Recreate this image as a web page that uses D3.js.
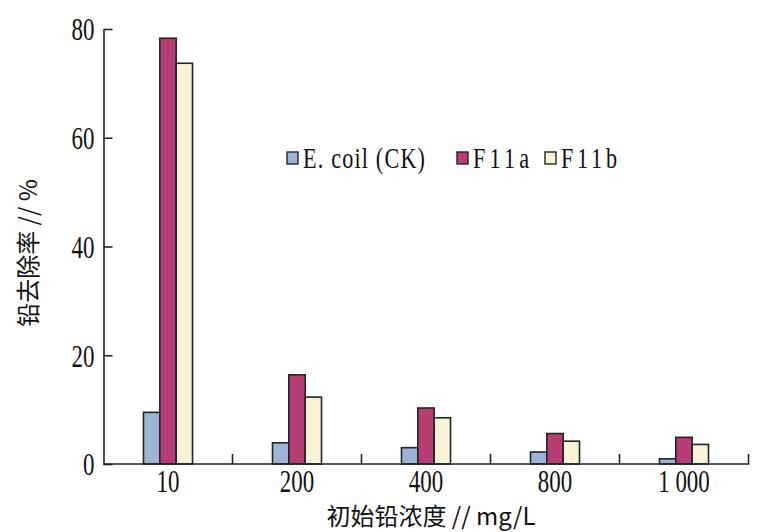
<html>
<head>
	<meta charset="utf-8">
	<script src="https://d3js.org/d3.v7.min.js"></script>
</head>
<body>
	<style> *{
		margin: 0px;
		padding: 0px;
	}
	body { background: #fff; }
	</style>

	<svg id="SVGcanvas" xmlns="http://www.w3.org/2000/svg" width="766" height="532"></svg>

	<script>
	// data
	var categories = ["10", "200", "400", "800", "1 000"];
	var seriesNames = ["E. coil (CK)", "F11a", "F11b"];
	var ecoilValues = [9.5, 3.9, 3.0, 2.2, 0.95];
	var f11aValues = [78.3, 16.4, 10.3, 5.6, 4.9];
	var f11bValues = [73.7, 12.3, 8.5, 4.2, 3.6];
	var yTicks = [0, 20, 40, 60, 80];
	var seriesColors = ["#9db4d6", "#b93d75", "#f8f3d6"];

	var svg = d3.select( "#SVGcanvas" );
	var plotLeft = 103.5, plotRight = 748.5, plotTop = 29, plotBottom = 464;
	var strokeColor = "#1e2626";
	var numFont = "'Liberation Serif', 'Times New Roman', serif";
	var cjkFont = "'Noto Sans CJK SC', sans-serif";
	var squeeze = 0.74;

	var seriesValues = [ecoilValues, f11aValues, f11bValues];

	var x = d3.scaleBand()
		.domain( categories )
		.range( [plotLeft, plotRight] )
		.paddingInner( 0.62 )
		.paddingOuter( 0.31 );

	var xInner = d3.scaleBand()
		.domain( d3.range( seriesNames.length ) )
		.range( [0, x.bandwidth()] );

	var y = d3.scaleLinear()
		.domain( [0, 80] )
		.range( [plotBottom, plotTop] );

	// bars
	categories.forEach( function ( cat, i ) {
		seriesValues.forEach( function ( vals, s ) {
			svg.append( "rect" )
				.attr( "x", x( cat ) + xInner( s ) )
				.attr( "y", y( vals[i] ) )
				.attr( "width", xInner.bandwidth() )
				.attr( "height", y( 0 ) - y( vals[i] ) )
				.attr( "fill", seriesColors[s] )
				.attr( "stroke", strokeColor )
				.attr( "stroke-width", 1.6 );
		});
	});

	// y axis, ticks pointing into the plot
	var yAxis = svg.append( "g" )
		.attr( "transform", "translate(" + plotLeft + ",0)" )
		.call( d3.axisRight( y ).tickValues( yTicks ).tickSize( 9 ).tickSizeOuter( 0 ) );
	yAxis.select( ".domain" ).attr( "stroke", strokeColor ).attr( "stroke-width", 1.6 );
	yAxis.selectAll( ".tick line" ).attr( "stroke", strokeColor ).attr( "stroke-width", 1.6 );
	yAxis.selectAll( ".tick text" )
		.attr( "x", -9 / squeeze )
		.attr( "dy", "0.35em" )
		.attr( "text-anchor", "end" )
		.attr( "transform", "scale(" + squeeze + ",1)" )
		.attr( "font-family", numFont )
		.attr( "font-size", 31 )
		.attr( "fill", "#111" );

	// x axis line with separator ticks pointing up
	var xAxisG = svg.append( "g" );
	xAxisG.append( "line" )
		.attr( "x1", plotLeft ).attr( "x2", plotRight + 1 )
		.attr( "y1", plotBottom ).attr( "y2", plotBottom )
		.attr( "stroke", strokeColor ).attr( "stroke-width", 1.6 );
	categories.forEach( function ( cat, i ) {
		var bx = plotLeft + x.step() * ( i + 1 );
		xAxisG.append( "line" )
			.attr( "x1", bx ).attr( "x2", bx )
			.attr( "y1", plotBottom ).attr( "y2", plotBottom - 10 )
			.attr( "stroke", strokeColor ).attr( "stroke-width", 1.6 );
		xAxisG.append( "text" )
			.attr( "transform", "translate(" + ( x( cat ) + x.bandwidth() / 2 ) + "," + ( plotBottom + 28 ) + ") scale(" + squeeze + ",1)" )
			.attr( "text-anchor", "middle" )
			.attr( "font-family", numFont )
			.attr( "font-size", 31 )
			.attr( "fill", "#111" )
			.text( cat );
	});

	// axis titles
	svg.append( "text" )
		.attr( "transform", "translate(431,525)" )
		.attr( "text-anchor", "middle" )
		.attr( "font-family", cjkFont )
		.attr( "font-size", 24 )
		.attr( "fill", "#111" )
		.text( "初始铅浓度 // mg/L" );

	svg.append( "text" )
		.attr( "transform", "translate(37,253) rotate(-90)" )
		.attr( "text-anchor", "middle" )
		.attr( "font-family", cjkFont )
		.attr( "font-size", 24 )
		.attr( "fill", "#111" )
		.text( "铅去除率 // %" );

	// legend
	var legendX = [287, 457, 545];
	var legendTextWidth = [122, 56, 56];
	seriesNames.forEach( function ( name, s ) {
		var g = svg.append( "g" ).attr( "transform", "translate(" + legendX[s] + ",152)" );
		g.append( "rect" )
			.attr( "width", 11 ).attr( "height", 12 )
			.attr( "fill", seriesColors[s] )
			.attr( "stroke", strokeColor ).attr( "stroke-width", 1.4 );
		g.append( "text" )
			.attr( "transform", "translate(16,16) scale(" + squeeze + ",1)" )
			.attr( "font-family", numFont )
			.attr( "font-size", 30 )
			.attr( "textLength", legendTextWidth[s] / squeeze )
			.attr( "lengthAdjust", "spacing" )
			.attr( "fill", "#111" )
			.text( name );
	});
	</script>

</body>
</html>
